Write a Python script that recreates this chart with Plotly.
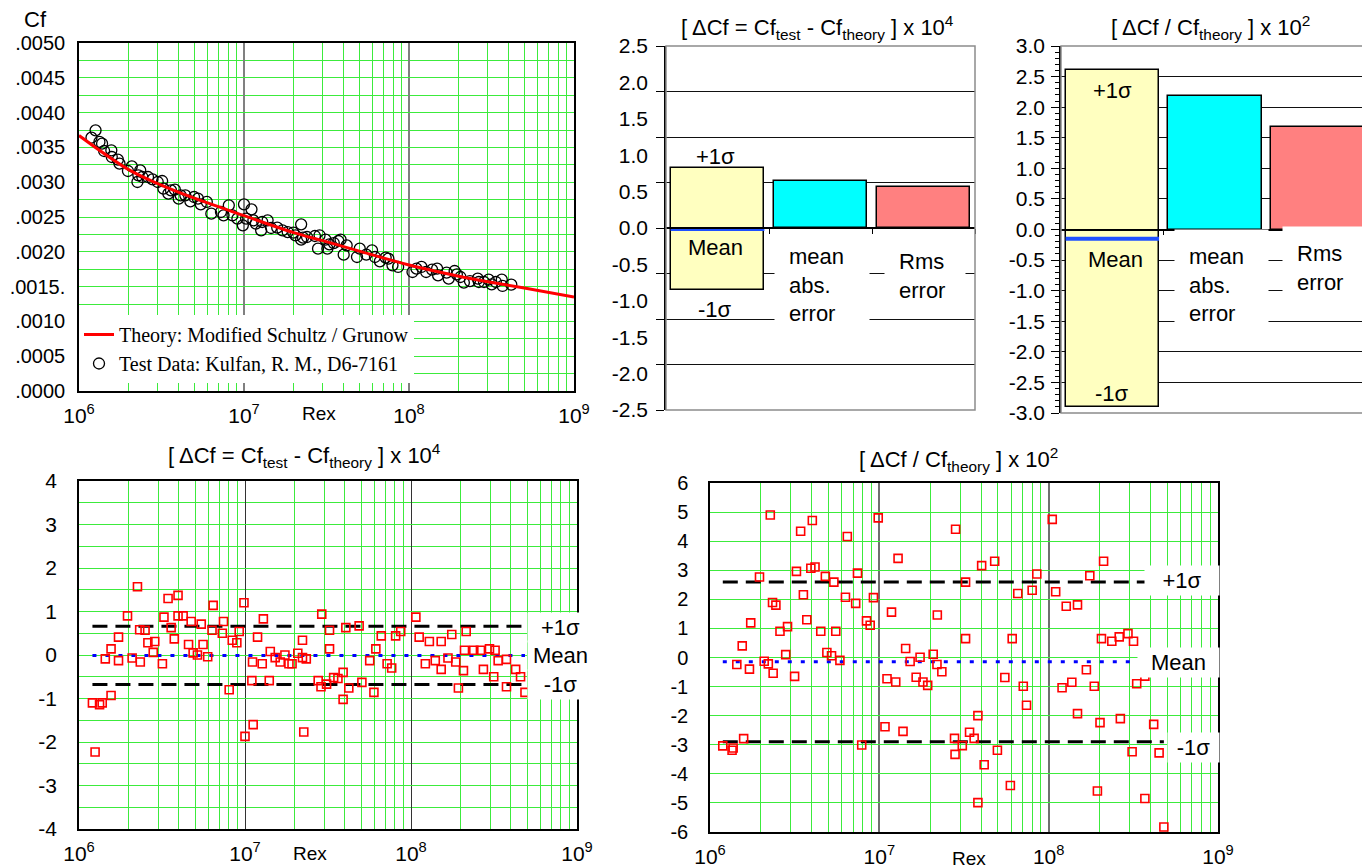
import plotly.graph_objects as go

W, H = 1370, 867
OFF = 8  # page body margin offset (px)
FONT = "Liberation Sans, Arial, sans-serif"
SERIF = "Liberation Serif, Times New Roman, serif"
GREEN = "#3CEB3C"

# ---------------- data ----------------
decades = [1e6, 1e7, 1e8, 1e9]
decade_labels = ["10<sup>6</sup>", "10<sup>7</sup>", "10<sup>8</sup>", "10<sup>9</sup>"]
minor_rex = [k * d for d in (1e6, 1e7, 1e8) for k in range(2, 10)]

cf_tickvals = [0, 0.0005, 0.0010, 0.0015, 0.0020, 0.0025, 0.0030, 0.0035, 0.0040, 0.0045, 0.0050]
cf_ticktext = [".0000", ".0005", ".0010", ".0015.", ".0020", ".0025", ".0030", ".0035", ".0040", ".0045", ".0050"]

# labels printed on the left axis of the absolute-error bar chart (evenly spread over the axis)
abs_axis_labels = ["-2.5", "-2.0", "-1.5", "-1.0", "-0.5", "0.0", "0.5", "1.0", "1.5", "2.0", "2.5"]
pct_bar_tickvals = [-3.0, -2.5, -2.0, -1.5, -1.0, -0.5, 0.0, 0.5, 1.0, 1.5, 2.0, 2.5, 3.0]
pct_bar_ticktext = ["-3.0", "-2.5", "-2.0", "-1.5", "-1.0", "-0.5", "0.0", "0.5", "1.0", "1.5", "2.0", "2.5", "3.0"]
abs_scatter_tickvals = [-4, -3, -2, -1, 0, 1, 2, 3, 4]
abs_scatter_ticktext = ["-4", "-3", "-2", "-1", "0", "1", "2", "3", "4"]
pct_scatter_tickvals = [-6, -5, -4, -3, -2, -1, 0, 1, 2, 3, 4, 5, 6]
pct_scatter_ticktext = ["-6", "-5", "-4", "-3", "-2", "-1", "0", "1", "2", "3", "4", "5", "6"]

theory_rex = [1e6, 2e6, 3e6, 5e6, 1e7, 2e7, 3e7, 5e7, 1e8, 2e8, 3e8, 5e8, 1e9]
theory_cf = [0.00367, 0.00318, 0.00298, 0.00277, 0.00252, 0.002275, 0.00216, 0.00201,
             0.00181, 0.00165, 0.00157, 0.00148, 0.00135]

test_rex = [1.19e6, 1.26e6, 1.33e6, 1.38e6, 1.42e6, 1.57e6, 1.58e6, 1.72e6, 1.76e6, 1.98e6,
            2.09e6, 2.26e6, 2.29e6, 2.35e6, 2.42e6, 2.62e6, 2.79e6, 3.00e6, 3.19e6, 3.25e6,
            3.48e6, 3.61e6, 3.81e6, 4.02e6, 4.13e6, 4.41e6, 4.73e6, 4.98e6, 5.26e6, 5.47e6,
            5.95e6, 6.34e6, 7.25e6, 7.52e6, 8.09e6, 8.51e6, 9.12e6, 9.84e6, 1.00e7, 1.03e7,
            1.11e7, 1.14e7, 1.18e7, 1.27e7, 1.29e7, 1.39e7, 1.46e7, 1.59e7, 1.71e7, 1.84e7,
            1.99e7, 2.05e7, 2.22e7, 2.22e7, 2.28e7, 2.41e7, 2.69e7, 2.81e7, 2.87e7, 3.12e7,
            3.20e7, 3.29e7, 3.50e7, 3.73e7, 3.85e7, 4.02e7, 4.19e7, 4.84e7, 5.03e7, 5.51e7,
            5.97e7, 6.22e7, 6.66e7, 7.22e7, 7.50e7, 7.94e7, 8.59e7, 1.05e8, 1.11e8, 1.19e8,
            1.27e8, 1.38e8, 1.48e8, 1.50e8, 1.69e8, 1.74e8, 1.89e8, 1.95e8, 2.05e8, 2.15e8,
            2.34e8, 2.61e8, 2.65e8, 2.85e8, 3.04e8, 3.17e8, 3.36e8, 3.65e8, 3.69e8, 4.17e8]
test_cf = [0.003640, 0.003745, 0.003578, 0.003554, 0.003448, 0.003458, 0.003362, 0.003324, 0.003266, 0.003161,
           0.003228, 0.003003, 0.003099, 0.003170, 0.003075, 0.003075, 0.003041, 0.003003, 0.003017, 0.002907,
           0.002835, 0.002883, 0.002893, 0.002764, 0.002811, 0.002811, 0.002725, 0.002787, 0.002764, 0.002682,
           0.002716, 0.002548, 0.002572, 0.002524, 0.002668, 0.002524, 0.002476, 0.002380, 0.002682, 0.002476,
           0.002610, 0.002452, 0.002404, 0.002308, 0.002428, 0.002452, 0.002342, 0.002347, 0.002308, 0.002284,
           0.002275, 0.002237, 0.002395, 0.002174, 0.002203, 0.002213, 0.002227, 0.002045, 0.002237, 0.002174,
           0.002045, 0.002107, 0.002126, 0.002155, 0.002174, 0.001959, 0.002093, 0.001925, 0.002045, 0.001959,
           0.002021, 0.001925, 0.001863, 0.001916, 0.001901, 0.001806, 0.001782, 0.001710, 0.001758, 0.001782,
           0.001710, 0.001743, 0.001758, 0.001662, 0.001700, 0.001614, 0.001724, 0.001676, 0.001638, 0.001557,
           0.001580, 0.001614, 0.001566, 0.001566, 0.001600, 0.001533, 0.001566, 0.001600, 0.001509, 0.001528]

# delta Cf x 1e4
d_rex = [1.205e6, 1.25e6, 1.33e6, 1.38e6, 1.44e6, 1.56e6, 1.56e6, 1.73e6, 1.73e6, 1.96e6,
         2.09e6, 2.25e6, 2.32e6, 2.34e6, 2.50e6, 2.60e6, 2.80e6, 2.86e6, 3.18e6, 3.25e6,
         3.44e6, 3.59e6, 3.75e6, 3.95e6, 3.95e6, 4.24e6, 4.57e6, 4.74e6, 4.87e6, 5.17e6,
         5.45e6, 5.59e6, 5.96e6, 6.33e6, 6.43e6, 7.30e6, 7.42e6, 8.03e6, 8.38e6, 8.93e6,
         9.23e6, 9.86e6, 1.00e7, 1.10e7, 1.11e7, 1.12e7, 1.19e7, 1.27e7, 1.29e7, 1.40e7,
         1.42e7, 1.52e7, 1.63e7, 1.74e7, 1.84e7, 1.92e7, 2.08e7, 2.22e7, 2.22e7, 2.26e7,
         2.34e7, 2.76e7, 2.87e7, 2.90e7, 3.10e7, 3.23e7, 3.23e7, 3.42e7, 3.63e7, 3.90e7,
         3.90e7, 4.05e7, 4.22e7, 4.87e7, 5.06e7, 5.64e7, 5.98e7, 6.14e7, 6.62e7, 7.18e7,
         7.65e7, 8.08e7, 8.67e7, 1.07e8, 1.12e8, 1.22e8, 1.29e8, 1.40e8, 1.52e8, 1.52e8,
         1.67e8, 1.76e8, 1.86e8, 1.93e8, 2.07e8, 2.10e8, 2.15e8, 2.39e8, 2.62e8, 2.73e8,
         2.97e8, 3.15e8, 3.21e8, 3.35e8, 3.76e8, 3.76e8, 4.27e8, 4.57e8, 4.86e8]
d_cf = [-1.10, -2.23, -1.14, -1.10, -0.09, 0.14, -0.93, 0.41, -0.13, 0.90,
        -0.07, 1.57, 0.58, -0.16, 0.57, 0.28, 0.06, 0.31, -0.20, 0.87,
        1.30, 0.63, 0.37, 1.37, 0.90, 0.90, 0.24, 0.77, 0.05, 0.00,
        0.71, 0.24, -0.04, 0.57, 1.14, 0.50, 0.77, -0.80, 0.34, 0.28,
        0.54, 1.20, -1.87, -0.59, -0.16, -1.60, 0.41, -0.20, 0.83, -0.59,
        0.08, -0.06, -0.16, 0.00, -0.20, -0.20, 0.04, 0.34, -0.06, -1.77,
        -0.09, -0.59, -0.73, 0.94, -0.67, 0.57, 0.14, -0.52, -0.54, -0.40,
        -1.02, 0.63, -0.76, 0.67, -0.63, -0.13, -0.86, 0.14, 0.44, -0.20,
        -0.30, 0.44, 0.54, 0.87, 0.41, -0.20, 0.31, -0.13, 0.31, -0.33,
        -0.07, 0.47, -0.16, -0.76, -0.36, 0.11, 0.54, 0.11, 0.11, -0.33,
        0.14, -0.50, 0.11, -0.13, -0.10, -0.73, -0.33, -0.50, -0.86]

# delta Cf / Cf x 1e2
p_rex = [1.19e6, 1.35e6, 1.37e6, 1.44e6, 1.55e6, 1.58e6, 1.71e6, 1.74e6, 1.96e6, 2.09e6,
         2.21e6, 2.27e6, 2.34e6, 2.36e6, 2.45e6, 2.59e6, 2.80e6, 2.87e6, 3.16e6, 3.24e6,
         3.43e6, 3.56e6, 3.73e6, 3.94e6, 4.02e6, 4.17e6, 4.51e6, 4.80e6, 4.90e6, 5.22e6,
         5.39e6, 5.53e6, 5.85e6, 6.31e6, 6.47e6, 7.25e6, 7.43e6, 7.87e6, 8.40e6, 8.83e6,
         9.23e6, 9.85e6, 1.08e7, 1.11e7, 1.18e7, 1.25e7, 1.29e7, 1.38e7, 1.43e7, 1.52e7,
         1.65e7, 1.74e7, 1.81e7, 1.93e7, 2.08e7, 2.19e7, 2.20e7, 2.34e7, 2.78e7, 2.80e7,
         2.82e7, 3.09e7, 3.23e7, 3.23e7, 3.41e7, 3.63e7, 3.82e7, 3.82e7, 4.02e7, 4.16e7,
         4.80e7, 4.98e7, 5.51e7, 5.94e7, 6.09e7, 6.57e7, 7.08e7, 7.40e7, 7.99e7, 8.51e7,
         1.05e8, 1.10e8, 1.20e8, 1.27e8, 1.37e8, 1.48e8, 1.48e8, 1.67e8, 1.75e8, 1.86e8,
         1.94e8, 2.01e8, 2.05e8, 2.11e8, 2.36e8, 2.61e8, 2.65e8, 2.94e8, 3.11e8, 3.17e8,
         3.31e8, 3.70e8, 3.70e8, 4.17e8, 4.49e8, 4.79e8]
p_cf = [-3.04, -3.19, -3.11, -0.24, 0.40, -2.79, -0.40, 1.19, 2.77, -0.13,
        -0.22, 4.90, 1.89, -0.54, 1.80, 0.90, 0.10, 1.06, -0.65, 2.96,
        4.34, 2.16, 1.30, 3.07, 4.71, 3.11, 0.90, 2.79, 0.17, 0.06,
        2.59, 0.90, -0.10, 2.07, 4.16, 1.86, 2.90, -3.01, 1.26, 1.11,
        2.06, 4.80, -2.38, -0.73, 1.56, -0.84, 3.41, -2.54, 0.31, -0.14,
        -0.68, 0.01, -0.84, -0.96, 0.11, -0.24, 1.46, -0.49, -2.78, -3.33,
        4.41, -3.03, 0.65, 2.59, -2.57, -2.78, -2.00, -4.99, 3.16, -3.69,
        3.31, -3.19, -0.69, -4.40, 0.65, 2.20, -0.99, -1.64, 2.31, 2.87,
        4.75, 2.26, -1.04, 1.76, -0.85, 1.81, -1.93, -0.42, 2.81, -0.99,
        -4.59, -2.24, 0.65, 3.31, 0.56, 0.71, -2.10, 0.82, -3.24, 0.56,
        -0.90, -0.64, -4.85, -2.30, -3.28, -5.83]

# summary statistics
abs_mean, abs_sigma, abs_mae, abs_rms = -0.01, 0.67, 0.52, 0.45
pct_mean, pct_sigma, pct_mae, pct_rms = -0.15, 2.75, 2.18, 1.68
bar_colors = ["#FFFFC0", "#00FFFF", "#FF8080"]

# ---------------- helpers (screen pixels -> paper fractions) ----------------
def px(x):
    return (x - OFF) / W

def py(y):
    return 1 - (y - OFF) / H

def dx(a, b):
    return [px(a), px(b)]

def dy(top, bottom):
    return [py(bottom), py(top)]

BAR_W = 0.91
fig = go.Figure()

# ---------- top-left ----------
fig.add_trace(go.Scatter(x=test_rex, y=test_cf, mode="markers", xaxis="x", yaxis="y",
                         name="Test Data: Kulfan, R. M., D6-7161",
                         marker=dict(symbol="circle-open", size=11, color="black", line=dict(width=1.3))))
fig.add_trace(go.Scatter(x=theory_rex, y=theory_cf, mode="lines", xaxis="x", yaxis="y",
                         name="Theory: Modified Schultz / Grunow", line=dict(color="#FF0000", width=3, shape="spline")))

# ---------- top-middle bars ----------
fig.add_trace(go.Bar(x=[0], y=[2 * abs_sigma], base=[abs_mean - abs_sigma], width=BAR_W,
                     marker=dict(color=bar_colors[0], line=dict(color="black", width=1.5)),
                     xaxis="x2", yaxis="y2", showlegend=False, hoverinfo="skip"))
fig.add_trace(go.Bar(x=[1, 2], y=[abs_mae, abs_rms], width=BAR_W,
                     marker=dict(color=bar_colors[1:], line=dict(color="black", width=1.5)),
                     xaxis="x2", yaxis="y2", showlegend=False, hoverinfo="skip"))
fig.add_trace(go.Scatter(x=[-BAR_W / 2, BAR_W / 2], y=[abs_mean, abs_mean], mode="lines",
                         line=dict(color="#1E50FF", width=4), xaxis="x2", yaxis="y2", showlegend=False))

# ---------- top-right bars ----------
fig.add_trace(go.Bar(x=[0], y=[2 * pct_sigma], base=[pct_mean - pct_sigma], width=BAR_W,
                     marker=dict(color=bar_colors[0], line=dict(color="black", width=1.5)),
                     xaxis="x4", yaxis="y4", showlegend=False, hoverinfo="skip"))
fig.add_trace(go.Bar(x=[1, 2], y=[pct_mae, pct_rms], width=BAR_W,
                     marker=dict(color=bar_colors[1:], line=dict(color="black", width=1.5)),
                     xaxis="x4", yaxis="y4", showlegend=False, hoverinfo="skip"))
fig.add_trace(go.Scatter(x=[-BAR_W / 2, BAR_W / 2], y=[pct_mean, pct_mean], mode="lines",
                         line=dict(color="#1E50FF", width=4), xaxis="x4", yaxis="y4", showlegend=False))

# ---------- bottom-left ----------
bl_span = [min(d_rex), max(d_rex)]
for val in (abs_mean + abs_sigma, abs_mean - abs_sigma):
    fig.add_trace(go.Scatter(x=bl_span, y=[val, val], mode="lines", line=dict(color="black", width=3, dash="15px,8px"),
                             xaxis="x5", yaxis="y5", showlegend=False))
fig.add_trace(go.Scatter(x=bl_span, y=[abs_mean, abs_mean], mode="lines",
                         line=dict(color="#0000FF", width=3, dash="4px,9px"), xaxis="x5", yaxis="y5", showlegend=False))
fig.add_trace(go.Scatter(x=d_rex, y=d_cf, mode="markers", xaxis="x5", yaxis="y5", showlegend=False,
                         marker=dict(symbol="square-open", size=8, color="#FF0000", line=dict(width=1.6))))

# ---------- bottom-right ----------
br_span = [min(p_rex), max(p_rex)]
for val in (pct_mean + pct_sigma, pct_mean - pct_sigma):
    fig.add_trace(go.Scatter(x=br_span, y=[val, val], mode="lines", line=dict(color="black", width=3, dash="15px,8px"),
                             xaxis="x6", yaxis="y6", showlegend=False))
fig.add_trace(go.Scatter(x=br_span, y=[pct_mean, pct_mean], mode="lines",
                         line=dict(color="#0000FF", width=3, dash="4px,9px"), xaxis="x6", yaxis="y6", showlegend=False))
fig.add_trace(go.Scatter(x=p_rex, y=p_cf, mode="markers", xaxis="x6", yaxis="y6", showlegend=False,
                         marker=dict(symbol="square-open", size=8, color="#FF0000", line=dict(width=1.6))))

# ---------------- axes ----------------
def log_x(domain, anchor, decade_color, decade_width):
    return dict(domain=domain, anchor=anchor, type="log", range=[6, 9], automargin=False,
                tickvals=decades, ticktext=decade_labels, ticks="", ticklabelstandoff=5,
                tickfont=dict(family=FONT, size=21, color="black"),
                showgrid=True, gridcolor=decade_color, gridwidth=decade_width,
                minor=dict(tickvals=minor_rex, showgrid=True, gridcolor=GREEN, gridwidth=1, ticks=""),
                showline=True, mirror=True, linecolor="black", linewidth=1.5, zeroline=False)

tm_top, tm_bot = 46, 410
tr_top, tr_bot = 46, 413

def zero_pos(top, bot, lo, hi):
    return py(bot) + (0 - lo) / (hi - lo) * (py(top) - py(bot))

n_lab = len(abs_axis_labels)
abs_label_pos = [-2 + 4 * i / (n_lab - 1) for i in range(n_lab)]

fig.update_layout(
    xaxis=log_x(dx(79, 574), "y", "#808080", 1.5),
    yaxis=dict(domain=dy(43, 391), anchor="x", range=[0, 0.005], tickvals=cf_tickvals, ticktext=cf_ticktext,
               automargin=False, ticks="", ticklabelstandoff=8, tickfont=dict(family=FONT, size=20, color="black"),
               showgrid=True, gridcolor=GREEN, gridwidth=1,
               minor=dict(dtick=0.00025, showgrid=True, gridcolor=GREEN, gridwidth=1, ticks=""),
               showline=True, mirror=True, linecolor="black", linewidth=1.5, zeroline=False),
    xaxis2=dict(domain=dx(666, 975), anchor="free", position=zero_pos(tm_top, tm_bot, -2, 2), range=[-0.5, 2.5],
                automargin=False, showline=True, linecolor="black", linewidth=1.5, tickvals=[0.5, 1.5, 2.5],
                ticks="outside", ticklen=5, tickcolor="black", showticklabels=False, showgrid=False, zeroline=False),
    yaxis2=dict(domain=dy(tm_top, tm_bot), anchor="x2", range=[-2, 2], automargin=False,
                tickvals=abs_label_pos, ticktext=abs_axis_labels, ticks="", ticklabelstandoff=12,
                tickfont=dict(family=FONT, size=21, color="black"), showgrid=False,
                minor=dict(dtick=0.5, ticks="outside", ticklen=8, tickcolor="black",
                           showgrid=True, gridcolor="#111111", gridwidth=1),
                showline=True, linecolor="black", linewidth=1.5, zeroline=False),
    xaxis4=dict(domain=dx(1061, 1369), anchor="free", position=zero_pos(tr_top, tr_bot, -3, 3), range=[-0.5, 2.5],
                automargin=False, showline=True, linecolor="black", linewidth=1.5, tickvals=[0.5, 1.5, 2.5],
                ticks="outside", ticklen=5, tickcolor="black", showticklabels=False, showgrid=False, zeroline=False),
    yaxis4=dict(domain=dy(tr_top, tr_bot), anchor="x4", range=[-3, 3], tickvals=pct_bar_tickvals,
                ticktext=pct_bar_ticktext, automargin=False,
                ticks="outside", ticklen=8, tickcolor="black", ticklabelstandoff=2,
                tickfont=dict(family=FONT, size=21, color="black"),
                showgrid=True, gridcolor="#111111", gridwidth=1,
                minor=dict(dtick=0.1, ticks="outside", ticklen=4, tickcolor="black", showgrid=False),
                showline=True, linecolor="black", linewidth=1.5, zeroline=False),
    xaxis5=log_x(dx(79, 577), "y5", "#333333", 1),
    yaxis5=dict(domain=dy(481, 829), anchor="x5", range=[-4, 4], tickvals=abs_scatter_tickvals,
                ticktext=abs_scatter_ticktext, ticks="", ticklabelstandoff=16,
                automargin=False, tickfont=dict(family=FONT, size=21, color="black"),
                showgrid=True, gridcolor=GREEN, gridwidth=1,
                minor=dict(dtick=0.5, showgrid=True, gridcolor=GREEN, gridwidth=1, ticks=""),
                showline=True, mirror=True, linecolor="black", linewidth=1.5, zeroline=False),
    xaxis6=log_x(dx(710, 1218), "y6", "#707070", 2),
    yaxis6=dict(domain=dy(483, 832), anchor="x6", range=[-6, 6], tickvals=pct_scatter_tickvals,
                ticktext=pct_scatter_ticktext, ticks="", ticklabelstandoff=16,
                automargin=False, tickfont=dict(family=FONT, size=20, color="black"),
                showgrid=True, gridcolor=GREEN, gridwidth=1,
                showline=True, mirror=True, linecolor="black", linewidth=1.5, zeroline=False),
)

# frames of the bar charts (grey top / right edges)
for xr, yr in [("x2", "y2"), ("x4", "y4")]:
    fig.add_shape(type="rect", xref=xr + " domain", yref=yr + " domain", x0=0, x1=1, y0=0, y1=1,
                  line=dict(color="#8C8C8C", width=1.5), layer="above")

# ---------------- annotations ----------------
def ann(text, x, y, size=21, family=FONT, **kw):
    d = dict(text=text, x=px(x), y=py(y), xref="paper", yref="paper", showarrow=False,
             font=dict(family=family, size=size, color="black"), xanchor="center", yanchor="middle")
    d.update(kw)
    fig.add_annotation(**d)

ann("Cf", 35, 19, size=22)
ann("Rex", 319, 413, size=19)
ann("Rex", 310, 853, size=19)
ann("Rex", 969, 858, size=19)

t_abs = "[ ΔCf = Cf<sub>test</sub> - Cf<sub>theory</sub> ] x 10<sup>4</sup>"
t_pct = "[ ΔCf / Cf<sub>theory</sub> ] x 10<sup>2</sup>"
ann(t_abs, 817, 27, size=22)
ann(t_pct, 1210, 27, size=22)
ann(t_abs, 304, 455, size=22)
ann(t_pct, 958, 460, size=22)

# top-middle bar labels
ann("+1σ", 715, 156, size=22)
ann("Mean", 715, 247, size=22)
ann("-1σ", 715, 309, size=22)
ann("mean<br>abs.<br>error", 822, 285, size=22, align="left", bgcolor="white", width=66, borderpad=14)
ann("Rms<br>error", 925, 276, size=22, align="left", bgcolor="white", width=52, borderpad=14)

# top-right bar labels
ann("+1σ", 1112, 91, size=22)
ann("Mean", 1115, 259, size=22)
ann("-1σ", 1112, 393, size=22)
ann("mean<br>abs.<br>error", 1221, 285, size=22, align="left", bgcolor="white", width=65, borderpad=14)
ann("Rms<br>error", 1324, 268, size=22, align="left", bgcolor="white", width=54, borderpad=14)

# bottom-left stat labels
ann("+1σ", 560, 627, size=22, bgcolor="white", width=61, borderpad=2)
ann("Mean", 560, 655, size=22, bgcolor="white", width=61, borderpad=2)
ann("-1σ", 560, 684, size=22, bgcolor="white", width=61, borderpad=2)

# bottom-right stat labels
ann("+1σ", 1182, 580, size=22, bgcolor="white", width=70, borderpad=2)
ann("Mean", 1178, 662, size=22, bgcolor="white", width=77, borderpad=2)
ann("-1σ", 1193, 747, size=22, bgcolor="white", width=47, borderpad=2)

fig.update_layout(
    width=W, height=H, margin=dict(l=0, r=0, t=0, b=0, autoexpand=False),
    paper_bgcolor="white", plot_bgcolor="white",
    showlegend=True,
    legend=dict(x=px(79), y=py(315), xanchor="left", yanchor="top", bgcolor="white",
                font=dict(family=SERIF, size=20, color="black"), traceorder="reversed",
                borderwidth=0, tracegroupgap=0),
    bargap=0,
)

fig.write_html("out.html")
